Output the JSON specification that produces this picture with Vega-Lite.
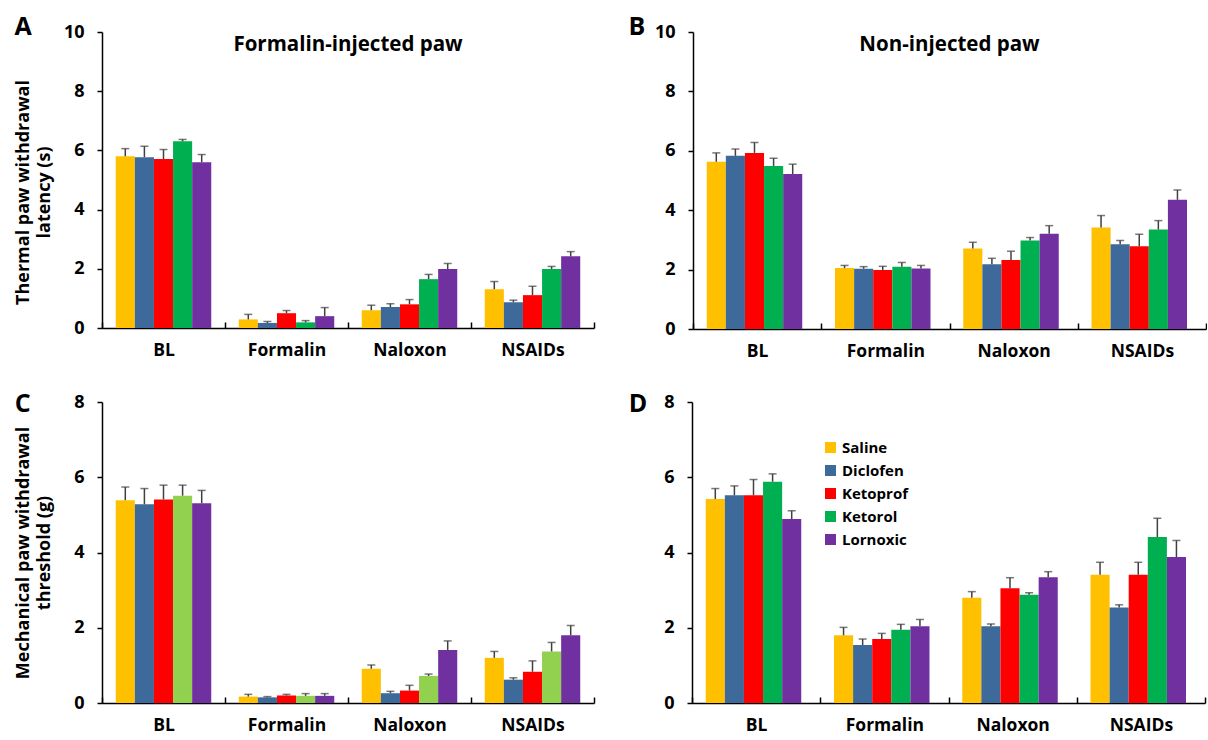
{
  "$schema": "https://vega.github.io/schema/vega-lite/v6.json",
  "padding": {"left": 14, "top": 15, "right": 0, "bottom": 3},
  "background": "white",
  "config": {
    "view": {"stroke": null},
    "font": "Open Sans",
    "axis": {"domainColor": "black", "domainWidth": 1.5, "tickColor": "black", "tickWidth": 1.5, "labelColor": "black", "labelFontWeight": "bold", "grid": false, "titleColor": "black", "titleFontWeight": "bold"},
    "axisY": {"tickSize": 5, "labelFontSize": 18, "labelPadding": 13, "titleFontSize": 18, "titlePadding": 10, "titleLineHeight": 21},
    "axisX": {"tickSize": -6, "labelFontSize": 17.5, "labelPadding": 19, "tickBand": "extent", "labelAngle": 0},
    "title": {"color": "black"}
  },
  "datasets": {
    "bars": [
      {"p": "A", "phase": "BL", "drug": "Saline", "mean": 5.80, "hi": 6.06},
      {"p": "A", "phase": "BL", "drug": "Diclofen", "mean": 5.77, "hi": 6.14},
      {"p": "A", "phase": "BL", "drug": "Ketoprof", "mean": 5.71, "hi": 6.03},
      {"p": "A", "phase": "BL", "drug": "Ketorol", "mean": 6.31, "hi": 6.37},
      {"p": "A", "phase": "BL", "drug": "Lornoxic", "mean": 5.60, "hi": 5.86},
      {"p": "A", "phase": "Formalin", "drug": "Saline", "mean": 0.29, "hi": 0.46},
      {"p": "A", "phase": "Formalin", "drug": "Diclofen", "mean": 0.17, "hi": 0.22},
      {"p": "A", "phase": "Formalin", "drug": "Ketoprof", "mean": 0.50, "hi": 0.59},
      {"p": "A", "phase": "Formalin", "drug": "Ketorol", "mean": 0.19, "hi": 0.25},
      {"p": "A", "phase": "Formalin", "drug": "Lornoxic", "mean": 0.40, "hi": 0.69},
      {"p": "A", "phase": "Naloxon", "drug": "Saline", "mean": 0.60, "hi": 0.77},
      {"p": "A", "phase": "Naloxon", "drug": "Diclofen", "mean": 0.71, "hi": 0.82},
      {"p": "A", "phase": "Naloxon", "drug": "Ketoprof", "mean": 0.80, "hi": 0.96},
      {"p": "A", "phase": "Naloxon", "drug": "Ketorol", "mean": 1.65, "hi": 1.81},
      {"p": "A", "phase": "Naloxon", "drug": "Lornoxic", "mean": 1.99, "hi": 2.18},
      {"p": "A", "phase": "NSAIDs", "drug": "Saline", "mean": 1.31, "hi": 1.57},
      {"p": "A", "phase": "NSAIDs", "drug": "Diclofen", "mean": 0.87, "hi": 0.94},
      {"p": "A", "phase": "NSAIDs", "drug": "Ketoprof", "mean": 1.11, "hi": 1.41},
      {"p": "A", "phase": "NSAIDs", "drug": "Ketorol", "mean": 1.99, "hi": 2.08},
      {"p": "A", "phase": "NSAIDs", "drug": "Lornoxic", "mean": 2.42, "hi": 2.58},
      {"p": "B", "phase": "BL", "drug": "Saline", "mean": 5.63, "hi": 5.93},
      {"p": "B", "phase": "BL", "drug": "Diclofen", "mean": 5.83, "hi": 6.06},
      {"p": "B", "phase": "BL", "drug": "Ketoprof", "mean": 5.93, "hi": 6.28},
      {"p": "B", "phase": "BL", "drug": "Ketorol", "mean": 5.49, "hi": 5.75},
      {"p": "B", "phase": "BL", "drug": "Lornoxic", "mean": 5.22, "hi": 5.55},
      {"p": "B", "phase": "Formalin", "drug": "Saline", "mean": 2.05, "hi": 2.14},
      {"p": "B", "phase": "Formalin", "drug": "Diclofen", "mean": 2.03, "hi": 2.10},
      {"p": "B", "phase": "Formalin", "drug": "Ketoprof", "mean": 1.99, "hi": 2.11},
      {"p": "B", "phase": "Formalin", "drug": "Ketorol", "mean": 2.10, "hi": 2.24},
      {"p": "B", "phase": "Formalin", "drug": "Lornoxic", "mean": 2.04, "hi": 2.14},
      {"p": "B", "phase": "Naloxon", "drug": "Saline", "mean": 2.71, "hi": 2.92},
      {"p": "B", "phase": "Naloxon", "drug": "Diclofen", "mean": 2.18, "hi": 2.38},
      {"p": "B", "phase": "Naloxon", "drug": "Ketoprof", "mean": 2.32, "hi": 2.62},
      {"p": "B", "phase": "Naloxon", "drug": "Ketorol", "mean": 2.98, "hi": 3.08},
      {"p": "B", "phase": "Naloxon", "drug": "Lornoxic", "mean": 3.21, "hi": 3.48},
      {"p": "B", "phase": "NSAIDs", "drug": "Saline", "mean": 3.42, "hi": 3.82},
      {"p": "B", "phase": "NSAIDs", "drug": "Diclofen", "mean": 2.85, "hi": 2.98},
      {"p": "B", "phase": "NSAIDs", "drug": "Ketoprof", "mean": 2.79, "hi": 3.19},
      {"p": "B", "phase": "NSAIDs", "drug": "Ketorol", "mean": 3.35, "hi": 3.65},
      {"p": "B", "phase": "NSAIDs", "drug": "Lornoxic", "mean": 4.35, "hi": 4.68},
      {"p": "C", "phase": "BL", "drug": "Saline", "mean": 5.39, "hi": 5.74},
      {"p": "C", "phase": "BL", "drug": "Diclofen", "mean": 5.28, "hi": 5.70},
      {"p": "C", "phase": "BL", "drug": "Ketoprof", "mean": 5.41, "hi": 5.79},
      {"p": "C", "phase": "BL", "drug": "Ketorol", "mean": 5.51, "hi": 5.79},
      {"p": "C", "phase": "BL", "drug": "Lornoxic", "mean": 5.31, "hi": 5.65},
      {"p": "C", "phase": "Formalin", "drug": "Saline", "mean": 0.17, "hi": 0.23},
      {"p": "C", "phase": "Formalin", "drug": "Diclofen", "mean": 0.15, "hi": 0.17},
      {"p": "C", "phase": "Formalin", "drug": "Ketoprof", "mean": 0.20, "hi": 0.23},
      {"p": "C", "phase": "Formalin", "drug": "Ketorol", "mean": 0.19, "hi": 0.25},
      {"p": "C", "phase": "Formalin", "drug": "Lornoxic", "mean": 0.19, "hi": 0.25},
      {"p": "C", "phase": "Naloxon", "drug": "Saline", "mean": 0.91, "hi": 1.01},
      {"p": "C", "phase": "Naloxon", "drug": "Diclofen", "mean": 0.26, "hi": 0.31},
      {"p": "C", "phase": "Naloxon", "drug": "Ketoprof", "mean": 0.33, "hi": 0.47},
      {"p": "C", "phase": "Naloxon", "drug": "Ketorol", "mean": 0.72, "hi": 0.77},
      {"p": "C", "phase": "Naloxon", "drug": "Lornoxic", "mean": 1.41, "hi": 1.65},
      {"p": "C", "phase": "NSAIDs", "drug": "Saline", "mean": 1.20, "hi": 1.37},
      {"p": "C", "phase": "NSAIDs", "drug": "Diclofen", "mean": 0.62, "hi": 0.67},
      {"p": "C", "phase": "NSAIDs", "drug": "Ketoprof", "mean": 0.83, "hi": 1.12},
      {"p": "C", "phase": "NSAIDs", "drug": "Ketorol", "mean": 1.37, "hi": 1.61},
      {"p": "C", "phase": "NSAIDs", "drug": "Lornoxic", "mean": 1.80, "hi": 2.06},
      {"p": "D", "phase": "BL", "drug": "Saline", "mean": 5.42, "hi": 5.70},
      {"p": "D", "phase": "BL", "drug": "Diclofen", "mean": 5.52, "hi": 5.77},
      {"p": "D", "phase": "BL", "drug": "Ketoprof", "mean": 5.52, "hi": 5.94},
      {"p": "D", "phase": "BL", "drug": "Ketorol", "mean": 5.88, "hi": 6.09},
      {"p": "D", "phase": "BL", "drug": "Lornoxic", "mean": 4.89, "hi": 5.11},
      {"p": "D", "phase": "Formalin", "drug": "Saline", "mean": 1.80, "hi": 2.01},
      {"p": "D", "phase": "Formalin", "drug": "Diclofen", "mean": 1.54, "hi": 1.70},
      {"p": "D", "phase": "Formalin", "drug": "Ketoprof", "mean": 1.70, "hi": 1.85},
      {"p": "D", "phase": "Formalin", "drug": "Ketorol", "mean": 1.95, "hi": 2.09},
      {"p": "D", "phase": "Formalin", "drug": "Lornoxic", "mean": 2.04, "hi": 2.22},
      {"p": "D", "phase": "Naloxon", "drug": "Saline", "mean": 2.80, "hi": 2.96},
      {"p": "D", "phase": "Naloxon", "drug": "Diclofen", "mean": 2.04, "hi": 2.10},
      {"p": "D", "phase": "Naloxon", "drug": "Ketoprof", "mean": 3.05, "hi": 3.33},
      {"p": "D", "phase": "Naloxon", "drug": "Ketorol", "mean": 2.88, "hi": 2.93},
      {"p": "D", "phase": "Naloxon", "drug": "Lornoxic", "mean": 3.34, "hi": 3.49},
      {"p": "D", "phase": "NSAIDs", "drug": "Saline", "mean": 3.41, "hi": 3.74},
      {"p": "D", "phase": "NSAIDs", "drug": "Diclofen", "mean": 2.54, "hi": 2.61},
      {"p": "D", "phase": "NSAIDs", "drug": "Ketoprof", "mean": 3.41, "hi": 3.74},
      {"p": "D", "phase": "NSAIDs", "drug": "Ketorol", "mean": 4.41, "hi": 4.91},
      {"p": "D", "phase": "NSAIDs", "drug": "Lornoxic", "mean": 3.88, "hi": 4.32}
    ]
  },
  "data": {"name": "bars"},
  "resolve": {"scale": {"color": "independent"}},
  "spacing": 32,
  "vconcat": [
    {
      "resolve": {"scale": {"color": "independent"}},
      "spacing": 33,
      "hconcat": [
        {
          "title": {"text": "A", "anchor": "start", "frame": "bounds", "fontSize": 25, "fontWeight": "bold", "offset": -17},
          "vconcat": [
            {
              "width": 492, "height": 296,
              "title": {"text": "Formalin-injected paw", "frame": "group", "anchor": "middle", "offset": -32, "fontSize": 20.5, "fontWeight": "bold"},
              "transform": [{"filter": "datum.p === 'A'"}],
              "encoding": {
                "x": {"field": "phase", "type": "nominal", "sort": ["BL", "Formalin", "Naloxon", "NSAIDs"], "scale": {"paddingInner": 0, "paddingOuter": 0}, "axis": {"title": null}},
                "xOffset": {"field": "drug", "type": "nominal", "sort": ["Saline", "Diclofen", "Ketoprof", "Ketorol", "Lornoxic"], "scale": {"paddingInner": 0, "paddingOuter": 0.72}}
              },
              "layer": [
                {"mark": {"type": "bar"}, "encoding": {
                  "y": {"field": "mean", "type": "quantitative", "scale": {"domain": [0, 10]}, "axis": {"title": ["Thermal paw withdrawal", "latency (s)"], "titleY": 160, "values": [0, 1, 2, 3, 4, 5, 6, 7, 8, 9, 10], "labelExpr": "datum.value % 2 === 0 ? datum.label : ''"}},
                  "color": {"field": "drug", "type": "nominal", "scale": {"domain": ["Saline", "Diclofen", "Ketoprof", "Ketorol", "Lornoxic"], "range": ["#FFC000", "#3D6A9B", "#FF0000", "#00B050", "#7030A0"]}, "legend": null}}},
                {"mark": {"type": "rule", "color": "#404040", "strokeWidth": 1.5}, "encoding": {"y": {"field": "mean", "type": "quantitative"}, "y2": {"field": "hi"}}},
                {"mark": {"type": "tick", "orient": "horizontal", "color": "#404040", "thickness": 1.5, "size": 8}, "encoding": {"y": {"field": "hi", "type": "quantitative"}}}
              ]
            }
          ]
        },
        {
          "title": {"text": "B", "anchor": "start", "frame": "bounds", "fontSize": 25, "fontWeight": "bold", "offset": -17, "dx": -26},
          "vconcat": [
            {
              "width": 513, "height": 297,
              "title": {"text": "Non-injected paw", "frame": "group", "anchor": "middle", "offset": -32, "fontSize": 20.5, "fontWeight": "bold"},
              "transform": [{"filter": "datum.p === 'B'"}],
              "encoding": {
                "x": {"field": "phase", "type": "nominal", "sort": ["BL", "Formalin", "Naloxon", "NSAIDs"], "scale": {"paddingInner": 0, "paddingOuter": 0}, "axis": {"title": null}},
                "xOffset": {"field": "drug", "type": "nominal", "sort": ["Saline", "Diclofen", "Ketoprof", "Ketorol", "Lornoxic"], "scale": {"paddingInner": 0, "paddingOuter": 0.72}}
              },
              "layer": [
                {"mark": {"type": "bar"}, "encoding": {
                  "y": {"field": "mean", "type": "quantitative", "scale": {"domain": [0, 10]}, "axis": {"title": null, "values": [0, 2, 4, 6, 8, 10]}},
                  "color": {"field": "drug", "type": "nominal", "scale": {"domain": ["Saline", "Diclofen", "Ketoprof", "Ketorol", "Lornoxic"], "range": ["#FFC000", "#3D6A9B", "#FF0000", "#00B050", "#7030A0"]}, "legend": null}}},
                {"mark": {"type": "rule", "color": "#404040", "strokeWidth": 1.5}, "encoding": {"y": {"field": "mean", "type": "quantitative"}, "y2": {"field": "hi"}}},
                {"mark": {"type": "tick", "orient": "horizontal", "color": "#404040", "thickness": 1.5, "size": 8}, "encoding": {"y": {"field": "hi", "type": "quantitative"}}}
              ]
            }
          ]
        }
      ]
    },
    {
      "resolve": {"scale": {"color": "independent"}},
      "spacing": 33,
      "hconcat": [
        {
          "title": {"text": "C", "anchor": "start", "frame": "bounds", "fontSize": 25, "fontWeight": "bold", "offset": -24},
          "vconcat": [
            {
              "width": 492, "height": 301,
              "transform": [{"filter": "datum.p === 'C'"}],
              "encoding": {
                "x": {"field": "phase", "type": "nominal", "sort": ["BL", "Formalin", "Naloxon", "NSAIDs"], "scale": {"paddingInner": 0, "paddingOuter": 0}, "axis": {"title": null}},
                "xOffset": {"field": "drug", "type": "nominal", "sort": ["Saline", "Diclofen", "Ketoprof", "Ketorol", "Lornoxic"], "scale": {"paddingInner": 0, "paddingOuter": 0.72}}
              },
              "layer": [
                {"mark": {"type": "bar"}, "encoding": {
                  "y": {"field": "mean", "type": "quantitative", "scale": {"domain": [0, 8]}, "axis": {"title": ["Mechanical paw withdrawal", "threshold (g)"], "titlePadding": 20, "values": [0, 1, 2, 3, 4, 5, 6, 7, 8], "labelExpr": "datum.value % 2 === 0 ? datum.label : ''"}},
                  "color": {"field": "drug", "type": "nominal", "scale": {"domain": ["Saline", "Diclofen", "Ketoprof", "Ketorol", "Lornoxic"], "range": ["#FFC000", "#3D6A9B", "#FF0000", "#92D050", "#7030A0"]}, "legend": null}}},
                {"mark": {"type": "rule", "color": "#404040", "strokeWidth": 1.5}, "encoding": {"y": {"field": "mean", "type": "quantitative"}, "y2": {"field": "hi"}}},
                {"mark": {"type": "tick", "orient": "horizontal", "color": "#404040", "thickness": 1.5, "size": 8}, "encoding": {"y": {"field": "hi", "type": "quantitative"}}}
              ]
            }
          ]
        },
        {
          "title": {"text": "D", "anchor": "start", "frame": "bounds", "fontSize": 25, "fontWeight": "bold", "offset": -24, "dx": -35},
          "vconcat": [
            {
              "width": 513, "height": 301,
              "transform": [{"filter": "datum.p === 'D'"}],
              "encoding": {
                "x": {"field": "phase", "type": "nominal", "sort": ["BL", "Formalin", "Naloxon", "NSAIDs"], "scale": {"paddingInner": 0, "paddingOuter": 0}, "axis": {"title": null}},
                "xOffset": {"field": "drug", "type": "nominal", "sort": ["Saline", "Diclofen", "Ketoprof", "Ketorol", "Lornoxic"], "scale": {"paddingInner": 0, "paddingOuter": 0.72}}
              },
              "layer": [
                {"mark": {"type": "bar"}, "encoding": {
                  "y": {"field": "mean", "type": "quantitative", "scale": {"domain": [0, 8]}, "axis": {"title": null, "values": [0, 1, 2, 3, 4, 5, 6, 7, 8], "labelExpr": "datum.value % 2 === 0 ? datum.label : ''"}},
                  "color": {"field": "drug", "type": "nominal", "scale": {"domain": ["Saline", "Diclofen", "Ketoprof", "Ketorol", "Lornoxic"], "range": ["#FFC000", "#3D6A9B", "#FF0000", "#00B050", "#7030A0"]},
                    "legend": {"orient": "none", "legendX": 131, "legendY": 38, "title": null, "symbolType": "square", "symbolSize": 121, "symbolStrokeWidth": 0, "labelFontSize": 15, "labelFontWeight": "bold", "labelColor": "black", "labelOffset": 4, "rowPadding": 7}}}},
                {"mark": {"type": "rule", "color": "#404040", "strokeWidth": 1.5}, "encoding": {"y": {"field": "mean", "type": "quantitative"}, "y2": {"field": "hi"}}},
                {"mark": {"type": "tick", "orient": "horizontal", "color": "#404040", "thickness": 1.5, "size": 8}, "encoding": {"y": {"field": "hi", "type": "quantitative"}}}
              ]
            }
          ]
        }
      ]
    }
  ]
}
